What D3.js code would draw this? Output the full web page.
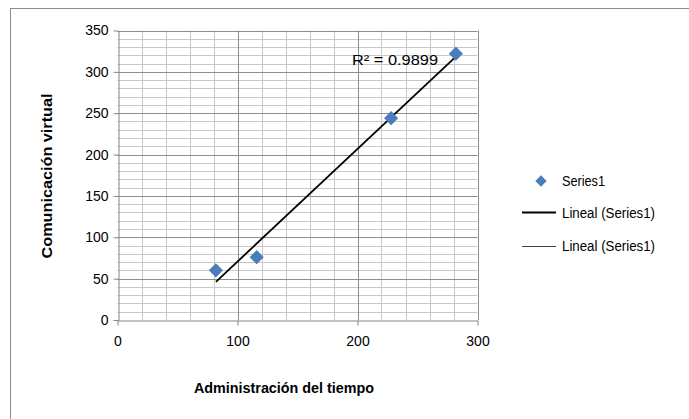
<!DOCTYPE html>
<html><head><meta charset="utf-8">
<script src="https://cdn.jsdelivr.net/npm/d3@7"></script>
<style>
body{margin:0;background:#fff;}
text{font-family:"Liberation Sans","Open Sans",sans-serif;fill:#000;}
</style></head>
<body><svg id="c" width="689" height="419"></svg>
<script>
const xValues = [82, 116, 228, 282];
const yValues = [60, 76, 244, 322];
const xTicks = [0, 100, 200, 300];
const yTicks = [0, 50, 100, 150, 200, 250, 300, 350];
const r2Label = "R² = 0.9899";
const seriesName = "Series1";
const trendName = "Lineal (Series1)";
const xTitle = "Administración del tiempo";
const yTitle = "Comunicación  virtual";

const svg = d3.select("#c");
svg.append("rect").attr("x",10.5).attr("y",8.5).attr("width",700).attr("height",430)
  .attr("fill","#fff").attr("stroke","#8c8c8c").attr("stroke-width",1);

const x = d3.scaleLinear().domain([0,300]).range([117.5,477.5]);
const y = d3.scaleLinear().domain([0,350]).range([320,30.5]);

const g = svg.append("g");
const minorX = d3.range(0,301,20).filter(v=>v%100!==0);
const minorY = d3.range(0,351,10).filter(v=>v%50!==0);
g.selectAll(".mx").data(minorX).join("line")
  .attr("x1",d=>Math.round(x(d))+0.5).attr("x2",d=>Math.round(x(d))+0.5)
  .attr("y1",y(350)).attr("y2",y(0)).attr("stroke","#c8c8c8").attr("stroke-width",1);
g.selectAll(".my").data(minorY).join("line")
  .attr("y1",d=>Math.round(y(d))+0.5).attr("y2",d=>Math.round(y(d))+0.5)
  .attr("x1",x(0)).attr("x2",x(300)).attr("stroke","#c8c8c8").attr("stroke-width",1);
g.selectAll(".Mx").data(xTicks.slice(1)).join("line")
  .attr("x1",d=>Math.round(x(d))+0.5).attr("x2",d=>Math.round(x(d))+0.5)
  .attr("y1",y(350)).attr("y2",y(0)).attr("stroke","#8e8e8e").attr("stroke-width",1);
g.selectAll(".My").data(yTicks.slice(1)).join("line")
  .attr("y1",d=>Math.round(y(d))+0.5).attr("y2",d=>Math.round(y(d))+0.5)
  .attr("x1",x(0)).attr("x2",x(300)).attr("stroke","#8e8e8e").attr("stroke-width",1);

const xAxis = d3.axisBottom(x).tickValues(xTicks).tickSize(5).tickPadding(8).tickSizeOuter(0);
const yAxis = d3.axisLeft(y).tickValues(yTicks).tickSize(5).tickPadding(5).tickSizeOuter(0);
const gx = svg.append("g").attr("transform",`translate(0,${Math.round(y(0))+0.5})`).call(xAxis);
const gy = svg.append("g").attr("transform",`translate(${Math.round(x(0))+0.5},0)`).call(yAxis);
[gx,gy].forEach(a=>{
  a.selectAll("path,line").attr("stroke","#868686").attr("stroke-width",1);
  a.selectAll("text").attr("font-size",14).attr("font-family","Liberation Sans, sans-serif").attr("fill","#000");
});
gx.selectAll("text").attr("dy","0.9em");

const n = xValues.length;
const mx = d3.mean(xValues), my = d3.mean(yValues);
let sxy=0,sxx=0;
for(let i=0;i<n;i++){sxy+=(xValues[i]-mx)*(yValues[i]-my);sxx+=(xValues[i]-mx)**2;}
const b = sxy/sxx, a0 = my-b*mx;
const x0 = d3.min(xValues), x1 = d3.max(xValues);
svg.append("line").attr("x1",x(x0)).attr("y1",y(a0+b*x0)).attr("x2",x(x1)).attr("y2",y(a0+b*x1))
  .attr("stroke","#000").attr("stroke-width",1.8);

svg.selectAll(".pt").data(xValues.map((v,i)=>[v,yValues[i]])).join("path")
  .attr("d",d3.symbol().type(d3.symbolSquare).size(100))
  .attr("transform",d=>`translate(${x(d[0])},${y(d[1])}) rotate(45)`)
  .attr("fill","#4a7ebb");

svg.append("text").attr("x",352).attr("y",65).attr("font-size",14.5)
  .attr("textLength",86).attr("lengthAdjust","spacingAndGlyphs").text(r2Label);

svg.append("text").attr("x",284).attr("y",393).attr("text-anchor","middle")
  .attr("font-size",14).attr("font-weight","bold")
  .attr("textLength",180).attr("lengthAdjust","spacingAndGlyphs").text(xTitle);
svg.append("text").attr("transform","translate(52,176) rotate(-90)").attr("text-anchor","middle")
  .attr("font-size",14).attr("font-weight","bold")
  .attr("textLength",165).attr("lengthAdjust","spacingAndGlyphs").text(yTitle);

const lg = svg.append("g");
lg.append("path").attr("d",d3.symbol().type(d3.symbolSquare).size(64)).attr("transform","translate(541,181) rotate(45)").attr("fill","#4a7ebb");
lg.append("text").attr("x",562).attr("y",186).attr("font-size",14)
  .attr("textLength",43).attr("lengthAdjust","spacingAndGlyphs").text(seriesName);
lg.append("line").attr("x1",522).attr("x2",556).attr("y1",212.5).attr("y2",212.5).attr("stroke","#000").attr("stroke-width",2);
lg.append("text").attr("x",562).attr("y",218).attr("font-size",14)
  .attr("textLength",93).attr("lengthAdjust","spacingAndGlyphs").text(trendName);
lg.append("line").attr("x1",522).attr("x2",556).attr("y1",246.5).attr("y2",246.5).attr("stroke","#404040").attr("stroke-width",1);
lg.append("text").attr("x",562).attr("y",251).attr("font-size",14)
  .attr("textLength",93).attr("lengthAdjust","spacingAndGlyphs").text(trendName);
</script></body></html>
